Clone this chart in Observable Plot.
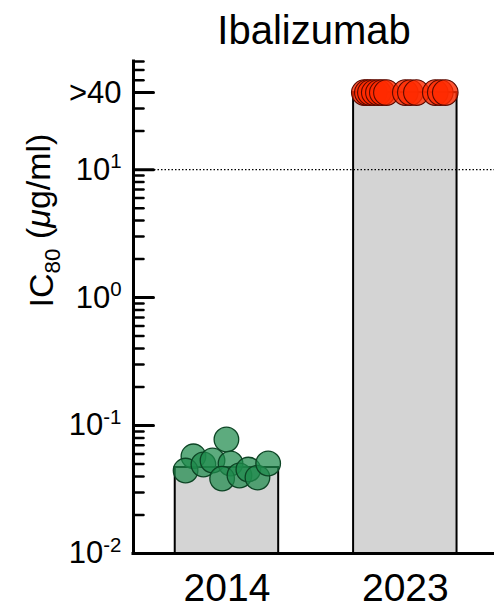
<!DOCTYPE html>
<html><head><meta charset="utf-8">
<script src="https://cdn.jsdelivr.net/npm/d3@7"></script>
<script src="https://cdn.jsdelivr.net/npm/@observablehq/plot@0.6"></script>
<style>
body{margin:0;background:#fff;}
#chart svg{display:block;font-family:"Liberation Sans",Arial,Helvetica,sans-serif;color:#000;}
</style></head><body><div id="chart"></div>
<script>
const title = "Ibalizumab";
const years = ["2014", "2023"];
const barValues = [0.047, 40];
const ic80_2014 = [0.0778, 0.0575, 0.0445, 0.0496, 0.0533, 0.0505, 0.0385, 0.0407, 0.0453, 0.0392, 0.0505];
const jitter_2014 = [-0.003, -0.188, -0.232, -0.132, -0.081, 0.020, -0.027, 0.070, 0.120, 0.171, 0.231];
const ic80_2023 = [40, 40, 40, 40, 40, 40, 40, 40, 40, 40, 40, 40, 40];
const jitter_2023 = [-0.230, -0.213, -0.196, -0.174, -0.151, -0.129, -0.106, 0.000, 0.028, 0.062, 0.168, 0.196, 0.224];
const majorTicks = [0.01, 0.1, 1, 10, 40];
const majorLabels = ["10^-2", "10^-1", "10^0", "10^1", ">40"];
const minorTicks = [0.02, 0.03, 0.04, 0.05, 0.06, 0.07, 0.08, 0.09,
                    0.2, 0.3, 0.4, 0.5, 0.6, 0.7, 0.8, 0.9,
                    2, 3, 4, 5, 6, 7, 8, 9,
                    20, 30, 50, 60, 70];
const threshold = 10;
const yLabel = "IC80 (μg/ml)";

const yDomain = [0.01, 70];
const xDomain = [-0.524, 1.5];
const barHalf = 0.29;

const bars = years.map((y, i) => ({i, value: barValues[i]}));
const green = ic80_2014.map((v, k) => ({x: 0 + jitter_2014[k], v}));
const red = ic80_2023.map((v, k) => ({x: 1 + jitter_2023[k], v}));
const labelOf = new Map(majorTicks.map((t, i) => [t, majorLabels[i]]));

// straight-line tick shape for inward-pointing ticks
const tickShape = {draw(context, l) { context.moveTo(0, 0); context.lineTo(0, -l); }};

const chart = Plot.plot({
  width: 494, height: 607,
  marginLeft: 133, marginRight: 0, marginTop: 61, marginBottom: 54,
  x: {type: "linear", domain: xDomain, axis: null},
  y: {type: "log", domain: yDomain, axis: null},
  marks: [
    Plot.rect(bars, {x1: d => d.i - barHalf, x2: d => d.i + barHalf, y1: yDomain[0], y2: "value",
      fill: "#d4d4d4", stroke: "black", strokeWidth: 2}),
    Plot.ruleY([threshold], {stroke: "black", strokeDasharray: "1.5,2", strokeWidth: 1.3}),
    Plot.dot(green, {x: "x", y: "v", r: 12.3, fill: "#1f8b4c", fillOpacity: 0.72, stroke: "#0c4424", strokeWidth: 1.3}),
    Plot.dot(red, {x: "x", y: "v", r: 12.8, fill: "#ff2a00", fillOpacity: 0.8, stroke: "#5a0a00", strokeWidth: 1.1}),
    Plot.vector(minorTicks, {y: d => d, frameAnchor: "left", rotate: 90, length: 10, anchor: "start",
      shape: tickShape, stroke: "black", strokeWidth: 2.5}),
    Plot.vector(majorTicks, {y: d => d, frameAnchor: "left", rotate: 90, length: 20, anchor: "start",
      shape: tickShape, stroke: "black", strokeWidth: 3}),
    Plot.axisY(majorTicks, {anchor: "left", tickSize: 0, tickPadding: 12,
      tickFormat: d => labelOf.get(d), fontSize: 31, label: null}),
    Plot.ruleX([xDomain[0]], {stroke: "black", strokeWidth: 3, strokeLinecap: "square"}),
    Plot.ruleY([yDomain[0]], {stroke: "black", strokeWidth: 3, strokeLinecap: "square"}),
    Plot.axisX([0, 1], {tickSize: 0, tickPadding: 20, tickFormat: i => years[i], fontSize: 39, label: null}),
    Plot.text([title], {frameAnchor: "top", lineAnchor: "top", dy: -46, fontSize: 40, fill: "black"}),
    Plot.text([yLabel], {frameAnchor: "left", rotate: -90, lineAnchor: "middle", dx: -91, fontSize: 34, fill: "black"})
  ]
});
document.getElementById("chart").appendChild(chart);

// superscript exponents in tick labels, subscript in the axis label
d3.select(chart).selectAll("text").each(function() {
  const t = this.textContent;
  if (/^10\^/.test(t)) {
    const exp = t.split("^")[1];
    const sel = d3.select(this);
    sel.text("10");
    sel.append("tspan").attr("dy", "-0.55em").attr("font-size", "0.66em").text(exp);
  } else if (t === yLabel) {
    const sel = d3.select(this);
    sel.text("IC");
    sel.append("tspan").attr("dy", "0.3em").attr("font-size", "0.66em").text("80");
    sel.append("tspan").attr("dy", "-0.3em").text(" (");
    sel.append("tspan").attr("font-style", "italic").text("μ");
    sel.append("tspan").text("g/ml)");
  }
});
</script></body></html>
